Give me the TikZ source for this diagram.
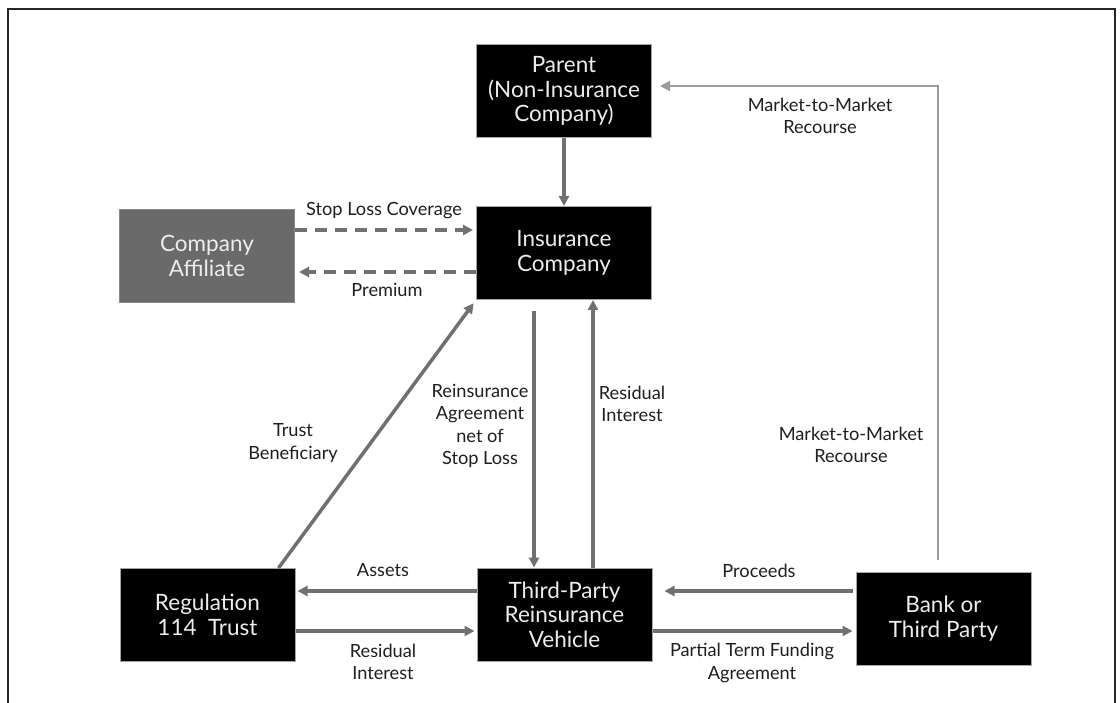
\documentclass[tikz,border=0pt]{standalone}
\usepackage{fontspec}
\setmainfont{Lato}
\usetikzlibrary{arrows.meta}
\definecolor{arrowgray}{HTML}{707070}
\definecolor{lightline}{HTML}{9A9A9A}
\definecolor{affgray}{HTML}{6A6A6A}
\definecolor{labeltext}{HTML}{1E1E1E}
\tikzset{
  entity/.style={draw=gray!70, line width=1pt, fill=black, text=white!93!black,
    minimum width=175pt, minimum height=93pt, align=center, inner sep=0pt,
    font=\fontsize{22.5}{24.5}\selectfont},
  affil/.style={entity, fill=affgray, draw=affgray!80},
  flow/.style={draw=arrowgray, line width=3.5pt, -{Triangle[length=10pt,width=10pt]}},
  dflow/.style={flow, dash pattern=on 12pt off 8pt},
  thinflow/.style={draw=lightline, line width=2pt, -{Triangle[length=10pt,width=10pt]}},
  lbl/.style={text=labeltext, align=center, inner sep=0pt, font=\fontsize{18.2}{22.5}\selectfont},
  frame/.style={draw=black!85, line width=2pt}
}
\begin{document}
\begin{tikzpicture}[x=1pt,y=-1pt]
\useasboundingbox (0,0) rectangle (1120,703);
\draw[frame] (8,704) -- (8,9) -- (1115,9) -- (1115,704);

% boxes
\node[entity] (parent) at (564,91) {Parent\\(Non-Insurance\\Company)};
\node[entity] (ins) at (564,253) {Insurance\\Company};
\node[affil] (aff) at (207,256) {Company\\Affiliate};
\node[entity] (reg) at (207.5,615) {Regulation\\114~~Trust};
\node[entity] (tprv) at (564.5,614.5) {Third-Party\\Reinsurance\\Vehicle};
\node[entity] (bank) at (943.5,618.5) {Bank or\\Third Party};

% helper levels
\coordinate (ySL) at (0,230);
\coordinate (yPR) at (0,272);
\coordinate (yUp) at (0,591);
\coordinate (yLo) at (0,631);
\coordinate (xRA) at (534,0);
\coordinate (xRI) at (593,0);
\coordinate (mm) at (938,86);

% arrows
\draw[flow] (parent.south) -- (ins.north);
\draw[dflow, shorten >=3pt] (aff.east |- ySL) -- (ins.west |- ySL);
\draw[dflow, shorten >=4pt] (ins.west |- yPR) -- (aff.east |- yPR);
\draw[flow, shorten <=11pt] (ins.south -| xRA) -- (tprv.north -| xRA);
\draw[flow] (tprv.north -| xRI) -- (ins.south -| xRI);
\draw[flow, shorten >=4pt] ([xshift=-17pt]reg.north east) -- (ins.south west);
\draw[flow, shorten >=2pt] (tprv.west |- yUp) -- (reg.east |- yUp);
\draw[flow, shorten >=2pt] (reg.east |- yLo) -- (tprv.west |- yLo);
\draw[flow, shorten <=3pt, shorten >=12pt] (bank.west |- yUp) -- (tprv.east |- yUp);
\draw[flow, shorten >=3pt] (tprv.east |- yLo) -- (bank.west |- yLo);
\draw[thinflow, shorten >=8pt] (bank.north -| mm) ++(0,-12) -- (mm) -- (parent.east |- mm);

% labels
\node[lbl] (l1) at (820,116) {Market-to-Market\\Recourse};
\node[lbl] (l2) at (851,445) {Market-to-Market\\Recourse};
\node[lbl] (l3) at (384,211) {Stop Loss Coverage};
\node[lbl] (l4) at (387,290) {Premium};
\node[lbl] (l5) at (480,426) {Reinsurance\\Agreement\\net of\\Stop Loss};
\node[lbl] (l6) at (632,404) {Residual\\Interest};
\node[lbl] (l7) at (293,443) {Trust\\Beneficiary};
\node[lbl] (l8) at (383,570) {Assets};
\node[lbl] (l9) at (383,662) {Residual\\Interest};
\node[lbl] (l10) at (759,571) {Proceeds};
\node[lbl] (l11) at (752,663) {Partial Term Funding\\Agreement};
\end{tikzpicture}
\end{document}
